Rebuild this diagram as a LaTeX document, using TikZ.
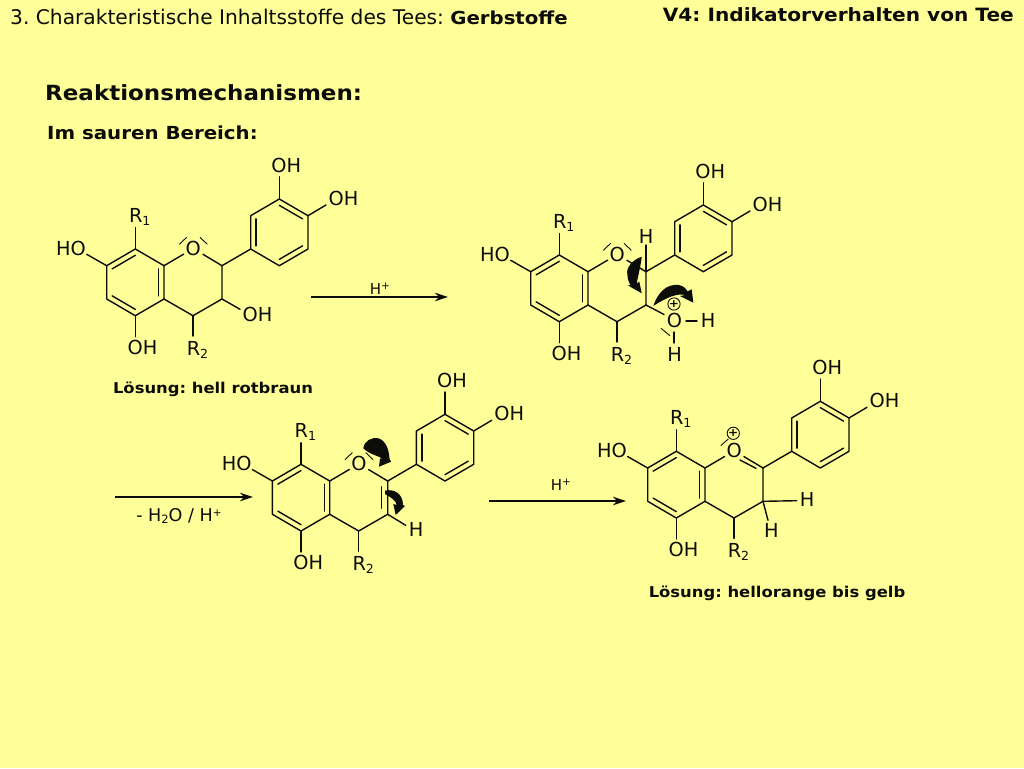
\documentclass[tikz,border=0pt]{standalone}
\usepackage{fontspec}
\setmainfont{DejaVu Sans}[BoldFeatures={FakeStretch=1.1}]
\usetikzlibrary{arrows.meta,calc}
\definecolor{bgyellow}{HTML}{FFFF99}
\definecolor{ink}{HTML}{0C0C08}
\newcommand\lowsub[1]{\raisebox{-3.5pt}{\fontsize{12.5}{13}\selectfont #1}}
\newcommand\highsup[1]{\raisebox{4.5pt}{\fontsize{10.5}{11}\selectfont #1}}
\frenchspacing
\tikzset{
  x=1pt,y=-1pt,
  bond/.style={line width=1.4pt,draw=ink,line cap=round,line join=round},
  pairbar/.style={line width=0.9pt,draw=ink},
  atomlabel/.style={anchor=base,inner sep=0pt,text=ink,font=\fontsize{19.3}{20}\selectfont},
  ringO/.style={circle,inner sep=0pt,minimum size=22pt,text=ink,font=\fontsize{19.3}{20}\selectfont},
  rxn/.style={line width=1.3pt,draw=ink,-{Stealth[length=13pt,width=8.5pt]}},
  rxnlabel/.style={anchor=base,inner sep=0pt,text=ink,font=\fontsize{15}{16}\selectfont},
  caption/.style={anchor=base,inner sep=0pt,text=ink,font=\fontsize{14.9}{17}\selectfont\bfseries},
  head/.style={anchor=base west,inner sep=0pt,text=ink},
  curly/.style={fill=ink,draw=none}
}
% common skeleton of the four formulas; #1 = prefix
\newcommand\skel[1]{%
  \coordinate (#1c8) at (135.3,249);
  \coordinate (#1c7) at (106.7,265.7);
  \coordinate (#1c6) at (106.7,299);
  \coordinate (#1c5) at (135.3,315.7);
  \coordinate (#1c4a) at (164,299);
  \coordinate (#1c8a) at (164,265.7);
  \coordinate (#1c2) at (222,265.7);
  \coordinate (#1c3) at (222,299);
  \coordinate (#1c4) at (193,315.7);
  \coordinate (#1p1) at (250.7,249);
  \coordinate (#1p2) at (250.7,215.7);
  \coordinate (#1p3) at (279.3,199);
  \coordinate (#1p4) at (308,215.7);
  \coordinate (#1p5) at (308,249);
  \coordinate (#1p6) at (279.3,265.7);
  \coordinate (#1cenA) at (135.3,282.3);
  \coordinate (#1cenB) at (279.3,232.3);
  \coordinate (#1e8) at (135.3,227.5);
  \coordinate (#1e7) at (86.7,254.3);
  \coordinate (#1e5) at (135.3,336.7);
  \coordinate (#1e4) at (193,336);
  \coordinate (#1ep3) at (279.3,176.7);
  \coordinate (#1ep4) at (326,205);
  \node[ringO] (#1O) at (193.3,248.5) {O};
  \node[atomlabel] (#1R1) at (139.7,222) {R\lowsub{1}};
  \node[atomlabel] (#1R2) at (197.5,355) {R\lowsub{2}};
  \node[atomlabel] (#1HO) at (71,255) {HO};
  \node[atomlabel] (#1OHb) at (142.5,354.5) {OH};
  \node[atomlabel] (#1OHt) at (286.3,172) {OH};
  \node[atomlabel] (#1OHr) at (343.5,205.5) {OH};
  \draw[bond] (#1c8) -- (#1c7) -- (#1c6) -- (#1c5) -- (#1c4a) -- (#1c8a) -- (#1c8);
  \draw[bond] (#1c8a) -- (#1O) -- (#1c2) -- (#1c3) -- (#1c4) -- (#1c4a);
  \draw[bond] (#1c2) -- (#1p1) -- (#1p2) -- (#1p3) -- (#1p4) -- (#1p5) -- (#1p6) -- (#1p1);
  \draw[bond] (#1c8) -- (#1e8);
  \draw[bond] (#1c7) -- (#1e7);
  \draw[bond] (#1c5) -- (#1e5);
  \draw[bond] (#1c4) -- (#1e4);
  \draw[bond] (#1p3) -- (#1ep3);
  \draw[bond] (#1p4) -- (#1ep4);
  \draw[bond] ($(#1c8)!.19!(#1cenA)$) -- ($(#1c7)!.19!(#1cenA)$);
  \draw[bond] ($(#1c6)!.19!(#1cenA)$) -- ($(#1c5)!.19!(#1cenA)$);
  \draw[bond] ($(#1c4a)!.19!(#1cenA)$) -- ($(#1c8a)!.19!(#1cenA)$);
  \draw[bond] ($(#1p1)!.19!(#1cenB)$) -- ($(#1p2)!.19!(#1cenB)$);
  \draw[bond] ($(#1p3)!.19!(#1cenB)$) -- ($(#1p4)!.19!(#1cenB)$);
  \draw[bond] ($(#1p5)!.19!(#1cenB)$) -- ($(#1p6)!.19!(#1cenB)$);
}
\newcommand\twopairs[1]{%
  \coordinate (#1la) at (179.3,244.3); \coordinate (#1lb) at (186.7,237.3);
  \coordinate (#1ra) at (200,237.3);   \coordinate (#1rb) at (207.3,244.3);
  \draw[pairbar] (#1la) -- (#1lb);
  \draw[pairbar] (#1ra) -- (#1rb);
}
\begin{document}
\begin{tikzpicture}
\useasboundingbox (0,0) rectangle (1024,768);
\fill[bgyellow] (0,0) rectangle (1024,768);

% headings
\node[head,font=\fontsize{20.2}{22}\selectfont] (title) at (10,25) {3. Charakteristische Inhaltsstoffe des Tees: {\fontsize{17.9}{22}\selectfont\textbf{Gerbstoffe}}};
\node[anchor=base east,inner sep=0pt,text=ink,font=\fontsize{18.3}{22}\selectfont\bfseries] (v4) at (1014,22) {V4: Indikatorverhalten von Tee};
\node[head,font=\fontsize{20.9}{25}\selectfont\bfseries] (reakt) at (45,100) {Reaktionsmechanismen:};
\node[head,font=\fontsize{18}{22}\selectfont\bfseries] (sauer) at (47,139) {Im sauren Bereich:};

% formula 1
\begin{scope}
  \skel{a}
  \twopairs{a}
  \coordinate (ae3) at (240,309.3);
  \node[atomlabel] (aOH3) at (257.5,321) {OH};
  \draw[bond] (ac3) -- (ae3);
\end{scope}

% formula 2
\begin{scope}[shift={(424,6)}]
  \skel{b}
  \twopairs{b}
  \node[atomlabel] (bHt) at (222,237.5) {H};
  \coordinate (bhe) at (222,239);
  \draw[bond] (bc2) -- (bhe);
  \coordinate (be3) at (240,308.5);
  \draw[bond] (bc3) -- (be3);
  \node[atomlabel] (bO2) at (250.5,321.5) {O};
  \node[atomlabel] (bH1) at (284,321.5) {H};
  \node[atomlabel] (bH2) at (250.5,355) {H};
  \coordinate (boa) at (262,315); \coordinate (bob) at (273,315);
  \draw[bond] (boa) -- (bob);
  \coordinate (boc) at (250,326); \coordinate (bod) at (250,337);
  \draw[bond] (boc) -- (bod);
  \coordinate (bpa) at (237,322.3); \coordinate (bpb) at (246,329.7);
  \draw[pairbar] (bpa) -- (bpb);
  \node[circle,draw=ink,line width=.9pt,inner sep=0pt,minimum size=11pt,text=ink,font=\fontsize{11}{11}\selectfont\bfseries] (bplus) at (250,298) {+};
\end{scope}
% curved arrows, formula 2
\fill[curly] (641.7,256.7) .. controls (632,260) and (626,268) .. (627.3,274) .. controls (627.5,279) and (629,283) .. (630.5,285) -- (628,285.5) -- (641.7,293.3) -- (639.3,281.7) -- (636.7,283.3) .. controls (639,272) and (641,264) .. (641.7,256.7) -- cycle;
\fill[curly] (653.3,306) .. controls (658,292) and (667,283.5) .. (679,285) .. controls (683,286) and (686,288) .. (687.5,291.5) -- (691.7,289.3) -- (693.3,302.7) -- (680,296) -- (685,295) .. controls (678,293) and (667,297) .. (653.3,306) -- cycle;

% formula 3
\begin{scope}[shift={(165.7,215.3)}]
  \skel{c}
  \twopairs{c}
  \coordinate (cda) at (216,271.4); \coordinate (cdb) at (216,293);
  \draw[bond] (cda) -- (cdb);
  \coordinate (che) at (240,310);
  \draw[bond] (cc3) -- (che);
  \node[atomlabel] (cH) at (250.5,321.5) {H};
\end{scope}
% curved arrows, formula 3
\fill[curly] (363.3,448.3) .. controls (364,441) and (372,436.5) .. (379,438.5) .. controls (386,441) and (389,450) .. (389.5,458.5) -- (391,461.7) -- (379,466.7) -- (380,458.3) -- (383.3,459.3) .. controls (380,456) and (370,455) .. (363.3,448.3) -- cycle;
\fill[curly] (385,490.7) .. controls (393,488.5) and (403,493) .. (403,505) -- (405,506) -- (395.7,515) -- (393.3,504) -- (396.7,505) .. controls (396,500) and (390,497) .. (385,494) -- cycle;

% formula 4
\begin{scope}[shift={(541,202.3)}]
  \skel{d}
  \coordinate (dla) at (179.7,243.4); \coordinate (dlb) at (187.3,236.7);
  \draw[pairbar] (dla) -- (dlb);
  \node[circle,draw=ink,line width=.9pt,inner sep=0pt,minimum size=11pt,text=ink,font=\fontsize{11}{11}\selectfont\bfseries] (dplus) at (192.3,231) {+};
  \coordinate (dda) at (199,257.7); \coordinate (ddb) at (215,266);
  \draw[bond] (dda) -- (ddb);
  \coordinate (dh1e) at (255.7,298.4);
  \draw[bond] (dc3) -- (dh1e);
  \node[atomlabel] (dH1) at (266,304) {H};
  \coordinate (dh2e) at (227,318);
  \draw[bond] (dc3) -- (dh2e);
  \node[atomlabel] (dH2) at (230.3,335.5) {H};
\end{scope}

% reaction arrows
\coordinate (r1s) at (311,297); \coordinate (r1e) at (448,297);
\draw[rxn] (r1s) -- (r1e);
\node[rxnlabel] (r1l) at (380,294) {H\highsup{+}};
\coordinate (r2s) at (115,497); \coordinate (r2e) at (253,497);
\draw[rxn] (r2s) -- (r2e);
\node[rxnlabel,font=\fontsize{17.6}{18}\selectfont] (r2l) at (179,521) {- H\raisebox{-2.5pt}{\fontsize{11.5}{12}\selectfont 2}O / H\highsup{+}};
\coordinate (r3s) at (489,501); \coordinate (r3e) at (626,501);
\draw[rxn] (r3s) -- (r3e);
\node[rxnlabel] (r3l) at (561,490) {H\highsup{+}};

% captions
\node[caption] (cap1) at (213,393) {Lösung: hell rotbraun};
\node[caption] (cap2) at (777,597) {Lösung: hellorange bis gelb};
\end{tikzpicture}
\end{document}
